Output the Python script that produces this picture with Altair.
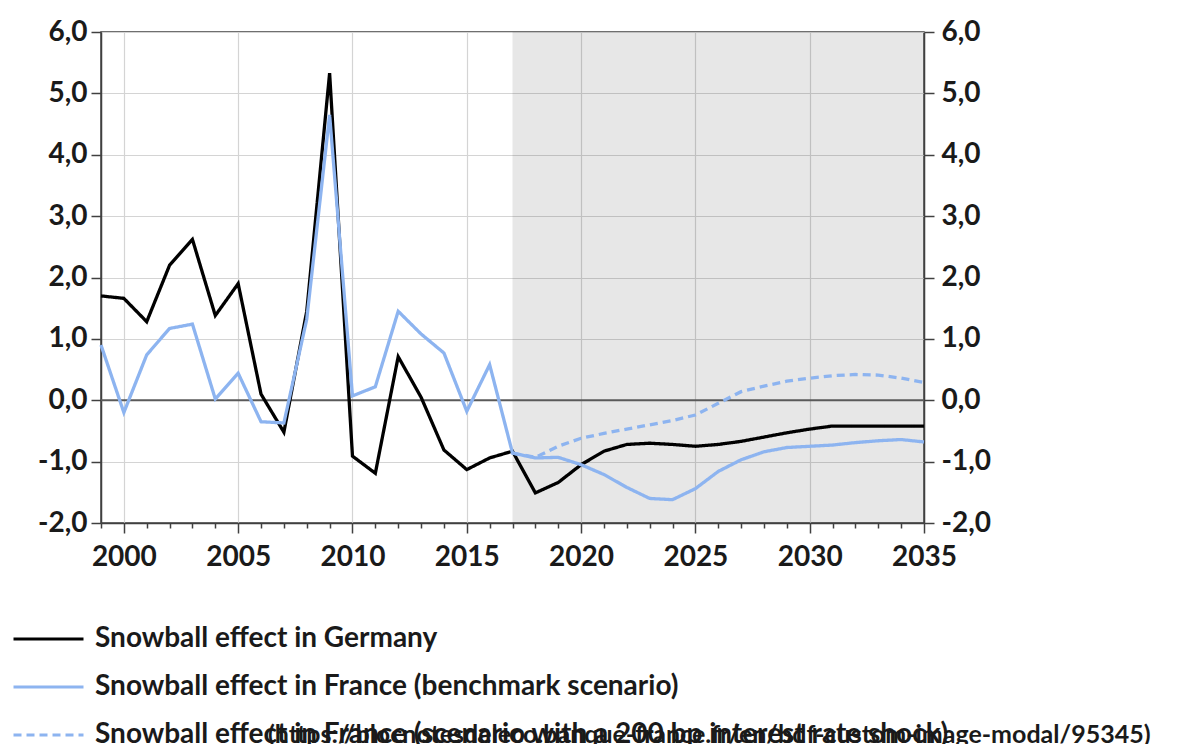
import altair as alt
import pandas as pd

# ---------------- data ----------------
years = list(range(1999, 2036))
germany = [1.70, 1.66, 1.28, 2.20, 2.62, 1.38, 1.90, 0.10, -0.52, 1.45, 5.33,
           -0.91, -1.19, 0.71, 0.05, -0.81, -1.13, -0.94, -0.83, -1.51, -1.34,
           -1.05, -0.83, -0.72, -0.70, -0.72, -0.75, -0.72, -0.67, -0.60, -0.53,
           -0.47, -0.42, -0.42, -0.42, -0.42, -0.42]
france = [0.90, -0.20, 0.74, 1.17, 1.24, 0.02, 0.44, -0.35, -0.37, 1.32, 4.65,
          0.07, 0.22, 1.45, 1.08, 0.77, -0.18, 0.58, -0.86, -0.94, -0.93,
          -1.05, -1.21, -1.42, -1.60, -1.62, -1.44, -1.16, -0.97, -0.84, -0.77,
          -0.75, -0.73, -0.69, -0.66, -0.64, -0.68]
shock_years = list(range(2017, 2036))
france_shock = [-0.86, -0.93, -0.75, -0.62, -0.54, -0.47, -0.40, -0.33, -0.24,
                -0.05, 0.14, 0.23, 0.31, 0.36, 0.40, 0.42, 0.41, 0.36, 0.29]

series_names = ["Snowball effect in Germany",
                "Snowball effect in France (benchmark scenario)",
                "Snowball effect in France (scenario with a 200 bp interest rate shock)"]
series_colors = ["#000000", "#8DB4F0", "#8DB4F0"]
series_dashes = [[1, 0], [1, 0], [8, 5]]

forecast_start = [2017]
forecast_end = [2035]
zero_line = [0.0]
overlay_text = ["(https://blocnotesdeleco.banque-france.fr/en/bdf-custom-image-modal/95345)"]
y_ticks = [-2, -1, 0, 1, 2, 3, 4, 5, 6]

# ---------------- tables ----------------
df_de = pd.DataFrame({"year": years, "value": germany, "series": series_names[0]})
df_fr = pd.DataFrame({"year": years, "value": france, "series": series_names[1]})
df_sh = pd.DataFrame({"year": shock_years, "value": france_shock, "series": series_names[2]})
df_fc = pd.DataFrame({"start": forecast_start, "end": forecast_end})
df_zero = pd.DataFrame({"value": zero_line})
df_txt = pd.DataFrame({"t": overlay_text})

FONT = "Lato"
W, H = 823, 491

x_scale = alt.Scale(domain=[1999, 2035], nice=False, zero=False)
y_scale = alt.Scale(domain=[-2, 6], nice=False, zero=False)

is5 = "datum.value % 5 === 0"
x_axis = alt.Axis(
    values=years,
    labelExpr=f"{is5} ? '' + datum.value : ''",
    tickSize={"condition": {"test": is5, "value": 10}, "value": 5},
    grid=True,
    gridOpacity={"condition": {"test": is5, "value": 1}, "value": 0},
    labelOverlap=False,
    labelFlush=False,
    labelPadding=10,
    title=None,
)

ylabel = "replace(replace(format(datum.value, '.1f'), '.', ','), '\u2212', '-')"
y_left = alt.Axis(values=y_ticks, labelExpr=ylabel, orient="left", grid=True,
                  tickSize=10, labelPadding=4, labelFlush=False, title=None)
y_right = alt.Axis(values=y_ticks, labelExpr=ylabel, orient="right", grid=False,
                   tickSize=10, labelPadding=7, labelFlush=False, title=None)

legend = alt.Legend(
    orient="none", legendX=-89, legendY=583, title=None,
    symbolType="stroke", symbolSize=4900, symbolStrokeWidth=3,
    labelFont=FONT, labelFontSize=28, labelFontWeight="bold", labelColor="#1a1a1a",
    labelLimit=1400, labelOffset=10, rowPadding=0, clipHeight=48, direction="vertical",
)
color = alt.Color("series:N", scale=alt.Scale(domain=series_names, range=series_colors),
                  legend=legend)
dash = alt.StrokeDash("series:N", scale=alt.Scale(domain=series_names, range=series_dashes),
                      legend=legend)

shade = alt.Chart(df_fc).mark_rect(color="#000000", opacity=0.095).encode(
    x=alt.X("start:Q", scale=x_scale, axis=x_axis),
    x2="end:Q",
    y=alt.value(0), y2=alt.value(H),
)

zero = alt.Chart(df_zero).mark_rule(color="#5a5a5a", strokeWidth=2).encode(
    y=alt.Y("value:Q", scale=y_scale, axis=y_right),
)

def line(df, axis):
    return alt.Chart(df).mark_line(strokeWidth=3.3).encode(
        x=alt.X("year:Q", scale=x_scale, axis=x_axis),
        y=alt.Y("value:Q", scale=y_scale, axis=axis),
        color=color,
        strokeDash=dash,
    )

l_de = line(df_de, y_left)
l_fr = line(df_fr, None)
l_sh = line(df_sh, None)

txt = alt.Chart(df_txt).mark_text(
    align="left", baseline="middle", font=FONT, fontSize=25, fontWeight="bold",
    color="#1a1a1a",
).encode(text="t:N", x=alt.value(167), y=alt.value(703))

chart = alt.layer(shade, zero, l_de, l_fr, l_sh, txt).resolve_axis(
    y="independent"
).properties(
    width=W, height=H,
    padding={"left": 93, "top": 24, "right": 267, "bottom": 221},
    autosize=alt.AutoSizeParams(type="none"),
).configure_view(
    stroke="#404040", strokeWidth=1.5,
).configure_axis(
    labelFont=FONT, labelFontSize=28, labelFontWeight="bold", labelColor="#1a1a1a",
    domainColor="#404040", domainWidth=1.5, tickColor="#404040", tickWidth=1.5,
    gridColor="#d4d4d4", gridWidth=1.2,
)

chart.save("out.html", embed_options={"renderer": "svg", "actions": False})
